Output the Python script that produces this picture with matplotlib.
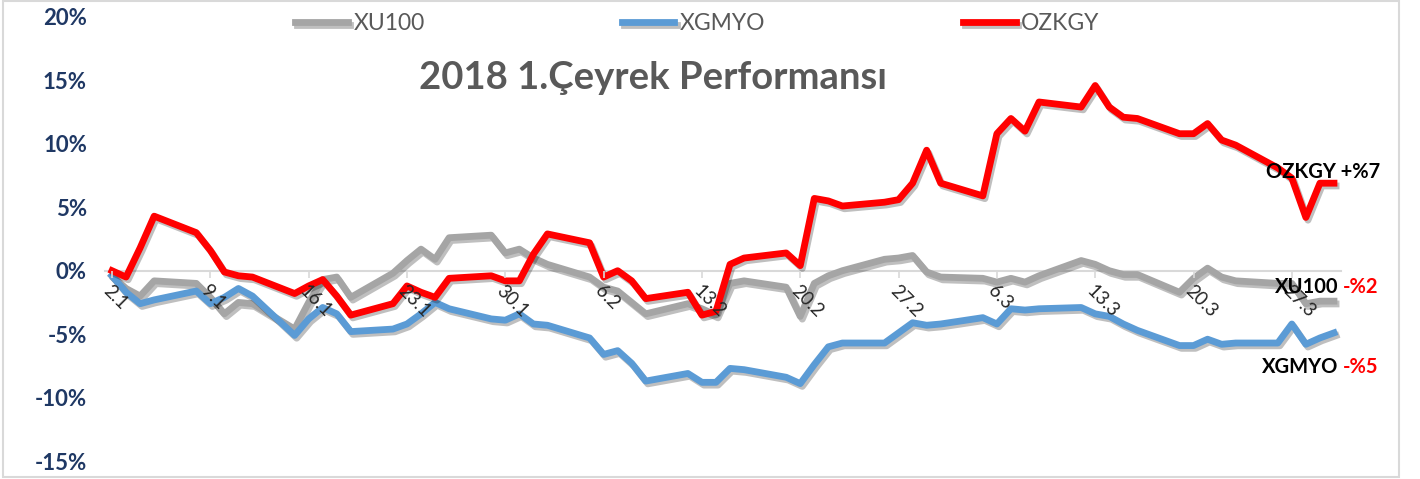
import matplotlib
matplotlib.use("Agg")
import matplotlib.pyplot as plt
import matplotlib.patheffects as pe
from matplotlib.patches import Rectangle
import pandas as pd

plt.rcParams['font.family'] = ['Lato', 'DejaVu Sans']

# trading days of 2018 Q1
dates = pd.bdate_range('2018-01-02', '2018-03-30')

xu100 = [-0.4, -1.4, -2.0, -0.8, -1.0, -2.1, -3.4, -2.5, -2.6,
         -4.6, -2.5, -0.7, -0.5, -2.1,
         -0.2, 0.8, 1.7, 0.9, 2.6,
         2.8, 1.4, 1.7, 1.0, 0.5,
         -0.5, -1.3, -1.6, -2.5, -3.4,
         -2.6, -3.0, -3.5, -1.0, -0.8,
         -1.3, -3.6, -1.0, -0.4, 0.0,
         0.9, 1.0, 1.2, -0.1, -0.5,
         -0.6, -0.9, -0.6, -0.9, -0.4,
         0.8, 0.5, 0.0, -0.3, -0.3,
         -1.7, -0.6, 0.2, -0.5, -0.8,
         -1.0, -1.0, -2.6, -2.4, -2.4]

xgmyo = [-0.4, -1.7, -2.6, -2.3, -1.6, -2.6, -2.1, -1.4, -2.0,
         -5.1, -3.8, -2.9, -3.4, -4.8,
         -4.6, -4.2, -3.4, -2.5, -3.0,
         -3.8, -3.9, -3.4, -4.2, -4.3,
         -5.3, -6.6, -6.3, -7.3, -8.7,
         -8.1, -8.8, -8.8, -7.7, -7.8,
         -8.4, -8.9, -7.4, -6.0, -5.7,
         -5.7, -4.9, -4.1, -4.3, -4.2,
         -3.7, -4.2, -3.0, -3.1, -3.0,
         -2.9, -3.4, -3.6, -4.2, -4.7,
         -5.9, -5.9, -5.4, -5.8, -5.7,
         -5.7, -4.2, -5.8, -5.3, -4.9]

ozkgy = [0.0, -0.5, 1.8, 4.3, 3.0, 1.6, -0.1, -0.4, -0.5,
         -1.8, -1.2, -0.7, -2.0, -3.5,
         -2.6, -1.2, -1.7, -2.1, -0.6,
         -0.4, -0.8, -0.8, 1.3, 2.9,
         2.2, -0.5, 0.0, -0.8, -2.2,
         -1.7, -3.5, -3.2, 0.5, 1.0,
         1.4, 0.4, 5.7, 5.5, 5.1,
         5.4, 5.6, 6.9, 9.5, 6.9,
         5.9, 10.8, 12.0, 11.0, 13.3,
         12.9, 14.6, 12.9, 12.1, 12.0,
         10.8, 10.8, 11.6, 10.3, 9.9,
         8.1, 7.3, 4.2, 6.9, 6.9]

tick_dates = pd.date_range('2018-01-02', '2018-03-27', freq='7D')
tick_labels = [f"{d.day}.{d.month}" for d in tick_dates]
y_ticks = [-15, -10, -5, 0, 5, 10, 15, 20]
y_labels = [f"{v}%" for v in y_ticks]

W, H = 1420, 479
fig = plt.figure(figsize=(W / 100, H / 100), dpi=100)
ax = fig.add_axes([105 / W, 1 - 461 / H, (1341 - 105) / W, (461 - 17) / H])

shadow = [pe.SimpleLineShadow(offset=(1.5, -2), shadow_color='black', alpha=0.25), pe.Normal()]
ax.plot(dates, xu100, color='#A5A5A5', lw=4.9, label='XU100', path_effects=shadow, solid_joinstyle='round')
ax.plot(dates, xgmyo, color='#5B9BD5', lw=4.9, label='XGMYO', path_effects=shadow, solid_joinstyle='round')
ax.plot(dates, ozkgy, color='#FF0000', lw=4.9, label='OZKGY', path_effects=shadow, solid_joinstyle='round')

ax.set_xlim(dates[0] - pd.Timedelta(hours=12), dates[-1] + pd.Timedelta(hours=12))
ax.set_ylim(-15, 20)

for s in ['top', 'right', 'left']:
    ax.spines[s].set_visible(False)
ax.spines['bottom'].set_position(('data', 0))
ax.spines['bottom'].set_color('#D9D9D9')
ax.spines['bottom'].set_linewidth(1.5)
ax.spines['bottom'].set_zorder(0)

ax.set_xticks(tick_dates)
ax.set_xticklabels(tick_labels)
ax.tick_params(axis='x', colors='#D9D9D9', length=5, width=1.2, pad=3, labelcolor='#262626', labelsize=13.5)
plt.setp(ax.get_xticklabels(), rotation=-45, ha='left', va='top', rotation_mode='anchor')
ax.xaxis.set_zorder(3)

ax.set_yticks(y_ticks)
ax.set_yticklabels(y_labels)
ax.tick_params(axis='y', length=0, pad=13, labelcolor='#1F3864', labelsize=16)
for t in ax.get_yticklabels():
    t.set_fontweight('bold')

fig.text(653 / W, 1 - 78 / H, '2018 1.Çeyrek Performansı', ha='center', va='center',
         fontsize=27.5, fontweight='bold', color='#595959')

leg = ax.legend(loc='upper left', bbox_to_anchor=(295 / W, 1 - 13 / H), bbox_transform=fig.transFigure,
                ncol=3, frameon=False, fontsize=16.5, handlelength=2.3, handletextpad=0.25,
                columnspacing=8.6, borderpad=0, borderaxespad=0)
for t in leg.get_texts():
    t.set_color('#595959')

# end labels
fig.text(1380 / W, 1 - 172 / H, 'OZKGY +%7', ha='right', va='center', fontsize=14.5, fontweight='bold', color='black')
fig.text(1338 / W, 1 - 287 / H, 'XU100', ha='right', va='center', fontsize=14.5, fontweight='bold', color='black')
fig.text(1343 / W, 1 - 287 / H, '-%2', ha='left', va='center', fontsize=14.5, fontweight='bold', color='#FF0000')
fig.text(1338 / W, 1 - 367 / H, 'XGMYO', ha='right', va='center', fontsize=14.5, fontweight='bold', color='black')
fig.text(1343 / W, 1 - 367 / H, '-%5', ha='left', va='center', fontsize=14.5, fontweight='bold', color='#FF0000')

fig.patches.append(Rectangle((3 / W, 2 / H), 1396 / W, 476 / H, transform=fig.transFigure,
                             fill=False, ec='#D9D9D9', lw=1.5))

fig.savefig('out.png', dpi=100)
